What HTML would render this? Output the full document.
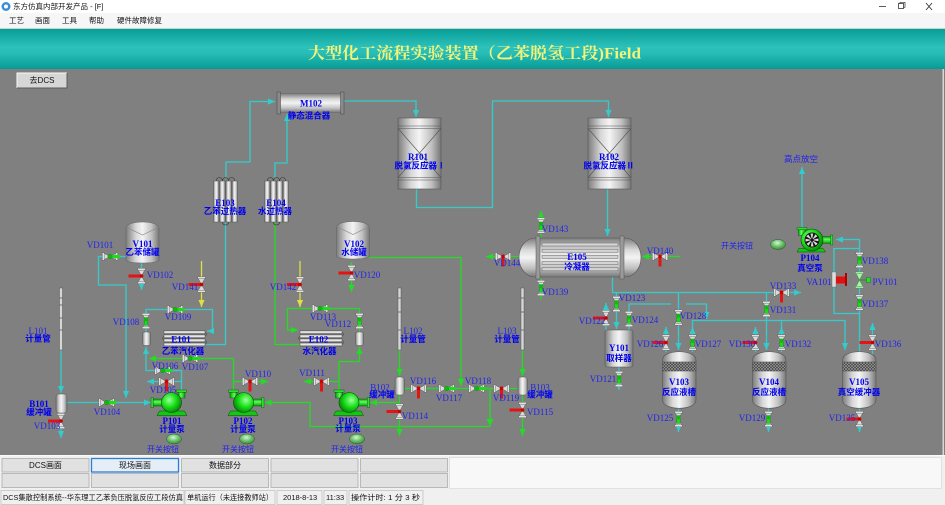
<!DOCTYPE html>
<html><head><meta charset="utf-8"><title>Field</title>
<style>
html,body{margin:0;padding:0;background:#808080;width:945px;height:505px;overflow:hidden}
svg{display:block}
text{dominant-baseline:central}
.vl{font-family:"Liberation Serif","Noto Serif CJK SC",serif;font-size:9px;fill:#2222ee;text-anchor:middle}
.eq{font-family:"Liberation Serif","Noto Serif CJK SC",serif;font-size:9px;font-weight:bold;fill:#0000f0;text-anchor:middle}
.cn{font-family:"Liberation Sans","Noto Sans CJK SC",sans-serif;font-size:8.5px;font-weight:bold;fill:#0000f0;text-anchor:middle}
.cr{font-family:"Liberation Sans","Noto Sans CJK SC",sans-serif;font-size:8px;fill:#2222ee;text-anchor:middle}
.ui{font-family:"Liberation Sans","Noto Sans CJK SC",sans-serif;font-size:7.5px;fill:#111}
.uic{font-family:"Liberation Sans","Noto Sans CJK SC",sans-serif;font-size:8px;fill:#111;text-anchor:middle}
</style></head><body>
<svg width="945" height="505" viewBox="0 0 945 505" xmlns="http://www.w3.org/2000/svg">
<defs>
<linearGradient id="hdr" x1="0" y1="0" x2="0" y2="1"><stop offset="0" stop-color="#089e98"/><stop offset="0.45" stop-color="#2cc2bb"/><stop offset="0.6" stop-color="#28beb7"/><stop offset="1" stop-color="#069b96"/></linearGradient>
<linearGradient id="mH" x1="0" y1="0" x2="1" y2="0"><stop offset="0" stop-color="#7c7c7c"/><stop offset="0.3" stop-color="#d8d8d8"/><stop offset="0.5" stop-color="#f4f4f4"/><stop offset="0.78" stop-color="#c0c0c0"/><stop offset="1" stop-color="#777"/></linearGradient>
<linearGradient id="mV" x1="0" y1="0" x2="0" y2="1"><stop offset="0" stop-color="#7c7c7c"/><stop offset="0.3" stop-color="#d8d8d8"/><stop offset="0.5" stop-color="#f4f4f4"/><stop offset="0.78" stop-color="#c0c0c0"/><stop offset="1" stop-color="#777"/></linearGradient>
<linearGradient id="gV" x1="0" y1="0" x2="0" y2="1"><stop offset="0" stop-color="#0a9a0a"/><stop offset="0.4" stop-color="#5cff5c"/><stop offset="1" stop-color="#0a9a0a"/></linearGradient>
<linearGradient id="gH" x1="0" y1="0" x2="1" y2="0"><stop offset="0" stop-color="#0a9a0a"/><stop offset="0.4" stop-color="#5cff5c"/><stop offset="1" stop-color="#0a9a0a"/></linearGradient>
<radialGradient id="gP" cx="0.38" cy="0.38" r="0.7"><stop offset="0" stop-color="#9aff9a"/><stop offset="0.5" stop-color="#19e019"/><stop offset="1" stop-color="#057a05"/></radialGradient>
<radialGradient id="btn" cx="0.45" cy="0.35" r="0.75"><stop offset="0" stop-color="#d6f5d6"/><stop offset="0.45" stop-color="#6fc46f"/><stop offset="1" stop-color="#2b7a2b"/></radialGradient>
<pattern id="mesh" width="3" height="3" patternUnits="userSpaceOnUse"><rect width="3" height="3" fill="#444"/><path d="M0,0L3,3M3,0L0,3" stroke="#a0a0a0" stroke-width="0.6"/></pattern>
<marker id="aC" viewBox="0 0 8 8" refX="8" refY="4" markerWidth="7" markerHeight="7" markerUnits="userSpaceOnUse" orient="auto"><path d="M0,0.5L8,4L0,7.5Z" fill="#33cccc"/></marker>
<marker id="aG" viewBox="0 0 8 8" refX="8" refY="4" markerWidth="7" markerHeight="7" markerUnits="userSpaceOnUse" orient="auto"><path d="M0,0.5L8,4L0,7.5Z" fill="#22dd22"/></marker>
<marker id="aY" viewBox="0 0 8 8" refX="8" refY="4" markerWidth="7" markerHeight="7" markerUnits="userSpaceOnUse" orient="auto"><path d="M0,0.5L8,4L0,7.5Z" fill="#e0e040"/></marker>
<g id="vv">
 <path d="M-3.2,-6 L3.2,-6 L0,0 Z M-3.2,6 L3.2,6 L0,0 Z" fill="#dadada" stroke="#5a5a5a" stroke-width="0.45"/>
 <rect x="-3.8" y="-7.6" width="7.6" height="1.7" fill="#efefef" stroke="#5a5a5a" stroke-width="0.4"/>
 <rect x="-3.8" y="5.9" width="7.6" height="1.7" fill="#efefef" stroke="#5a5a5a" stroke-width="0.4"/>
</g>
<g id="vh"><use href="#vv" transform="rotate(90)"/></g>
<g id="vvg"><use href="#vv"/><rect x="-1.6" y="-3.5" width="3.2" height="8" fill="#18e018" stroke="#0a700a" stroke-width="0.3"/><circle cy="-1.5" r="1.9" fill="#0cbc0c"/></g>
<g id="vvr"><use href="#vv"/><rect x="-13" y="-1.5" width="13" height="3" fill="#e41414"/><circle r="1.8" fill="#c00"/></g>
<g id="vhg"><use href="#vh"/><rect x="0" y="-1.5" width="10" height="3" fill="#18e018"/><circle r="2.2" fill="#0cbc0c" stroke="#0a700a" stroke-width="0.3"/></g>
<g id="vhr"><use href="#vh"/><rect x="-1.5" y="-2" width="3" height="12" fill="#e41414"/><circle r="1.8" fill="#c00"/></g>
<g id="pmp">
 <path d="M-12,8.5 L13,8.5 L15.5,13 L-14.5,13 Z" fill="#12c812" stroke="#064a06" stroke-width="0.5"/>
 <rect x="-19" y="-3.5" width="10" height="7" fill="url(#gV)" stroke="#064a06" stroke-width="0.4"/>
 <rect x="-20.5" y="-5" width="2.2" height="10" fill="#2ee02e" stroke="#064a06" stroke-width="0.4"/>
 <rect x="6.5" y="-10.5" width="7" height="6" fill="url(#gH)" stroke="#064a06" stroke-width="0.4"/>
 <rect x="5" y="-12.5" width="10" height="2.2" fill="#2ee02e" stroke="#064a06" stroke-width="0.4"/>
 <circle r="10" fill="url(#gP)" stroke="#064a06" stroke-width="0.6"/>
</g>
</defs>

<!-- window chrome -->
<rect x="0" y="0" width="945" height="13" fill="#ffffff"/>
<circle cx="6" cy="6.5" r="4.5" fill="#3a8fd8"/><circle cx="6" cy="6.5" r="2" fill="#ffffff"/>
<text class="ui" x="13" y="6.5">东方仿真内部开发产品 - [F]</text>
<line x1="879" y1="6.5" x2="886" y2="6.5" stroke="#333" stroke-width="0.8"/>
<rect x="898.5" y="3.5" width="5" height="5" fill="none" stroke="#333" stroke-width="0.8"/>
<path d="M900,3.5V2.3H905V7.3H903.5" fill="none" stroke="#333" stroke-width="0.7"/>
<path d="M926,3L932,10M932,3L926,10" stroke="#333" stroke-width="0.9"/>
<rect x="0" y="13" width="945" height="15" fill="#f6f6f6"/>
<text class="ui" x="9" y="20.5">工艺</text>
<text class="ui" x="35" y="20.5">画面</text>
<text class="ui" x="62" y="20.5">工具</text>
<text class="ui" x="89" y="20.5">帮助</text>
<text class="ui" x="117" y="20.5">硬件故障修复</text>
<line x1="0" y1="28.5" x2="945" y2="28.5" stroke="#cfcfcf" stroke-width="1"/>

<!-- header -->
<rect x="0" y="29" width="945" height="40" fill="url(#hdr)"/>
<text x="474.5" y="54" text-anchor="middle" textLength="333" lengthAdjust="spacingAndGlyphs" font-family="'Liberation Serif','Noto Serif CJK SC',serif" font-size="16" font-weight="bold" fill="#f3f37a">大型化工流程实验装置（乙苯脱氢工段)Field</text>

<!-- body -->
<rect x="0" y="69" width="945" height="386" fill="#808080"/>
<rect x="942.5" y="69" width="1.5" height="386" fill="#d8d8d8"/>
<rect x="17" y="73" width="50" height="15" fill="#d6d6d6"/>
<path d="M17,88V73H67" fill="none" stroke="#fafafa" stroke-width="1"/>
<path d="M17,88H67V73" fill="none" stroke="#5a5a5a" stroke-width="1"/>
<text class="uic" x="42" y="80.5">去DCS</text>

<!-- pipelines cyan -->
<g fill="none" stroke="#33cccc" stroke-width="1.3">
<polyline points="226,178 226,162 250,162 250,101.5 275,101.5" marker-end="url(#aC)"/>
<polyline points="275,178 275,163 287,163 287,114" marker-end="url(#aC)"/>
<polyline points="344,101 416,101 416,117" marker-end="url(#aC)"/>
<polyline points="416.5,189 416.5,207.5 492.5,207.5 492.5,101 608.5,101 608.5,117" marker-end="url(#aC)"/>
<polyline points="607.5,189 607.5,236" marker-end="url(#aC)"/>
<polyline points="612.5,276 612.5,292.5 801,292.5" marker-end="url(#aC)"/>
<polyline points="678.5,292.5 678.5,350" marker-end="url(#aC)"/>
<polyline points="766.5,292.5 766.5,350" marker-end="url(#aC)"/>
<polyline points="616.5,292.5 616.5,329" marker-end="url(#aC)"/>
<polyline points="606,330 606,303" marker-end="url(#aC)"/>
<polyline points="629,330 629,304 671,304"/>
<polyline points="686,304 706.5,304 706.5,319" marker-end="url(#aC)"/>
<polyline points="692.5,327 692.5,320.5 845,320.5 845,350" marker-end="url(#aC)"/>
<polyline points="692.5,352 692.5,327" marker-end="url(#aC)"/>
<polyline points="781.5,352 781.5,327" marker-end="url(#aC)"/>
<line x1="781.5" y1="327" x2="781.5" y2="320.5"/>
<polyline points="666,352 666,327" marker-end="url(#aC)"/>
<polyline points="755.5,352 755.5,327" marker-end="url(#aC)"/>
<polyline points="872.5,354 872.5,323" marker-end="url(#aC)"/>
<polyline points="859.5,352 859.5,239.5 836,239.5" marker-end="url(#aC)"/>
<polyline points="859.5,313.5 834,313.5 834,248.5 859.5,248.5"/>
<polyline points="802,228 802,167" marker-end="url(#aC)"/>
<polyline points="619,367 619,390" marker-end="url(#aC)"/>
<polyline points="678.5,408 678.5,432" marker-end="url(#aC)"/>
<polyline points="768.5,408 768.5,432" marker-end="url(#aC)"/>
<polyline points="859.5,408 859.5,432" marker-end="url(#aC)"/>
<polyline points="126,256.5 98.5,256.5 98.5,285 126,285 126,398" marker-end="url(#aC)"/>
<polyline points="141.5,263 141.5,290" marker-end="url(#aC)"/>
<polyline points="61,350 61,393" marker-end="url(#aC)"/>
<polyline points="61,413 61,438" marker-end="url(#aC)"/>
<polyline points="67,402.5 151,402.5" marker-end="url(#aC)"/>
<polyline points="181.5,390 181.5,370.5 146,370.5 146,347" marker-end="url(#aC)"/>
<polyline points="181.5,381.5 147,381.5" marker-end="url(#aC)"/>
<polyline points="146,332 146,309.5 212.5,309.5 212.5,331 207,331" marker-end="url(#aC)"/>
<polyline points="205,344.5 225.5,344.5 225.5,222"/>
</g>
<!-- pipelines green -->
<g fill="none" stroke="#22dd22" stroke-width="1.3">
<polyline points="369,257.5 461,257.5 461,386" marker-end="url(#aG)"/>
<polyline points="351.5,262 351.5,292" marker-end="url(#aG)"/>
<polyline points="275,222 275,344.5 300,344.5"/>
<polyline points="359.5,332 359.5,308.5 287.5,308.5 287.5,330 298,330" marker-end="url(#aG)"/>
<polyline points="339,391 339,361.5 359.5,361.5 359.5,347" marker-end="url(#aG)"/>
<polyline points="339,381.5 304,381.5" marker-end="url(#aG)"/>
<polyline points="399.5,402.5 370,402.5" marker-end="url(#aG)"/>
<polyline points="399.5,395 399.5,436" marker-end="url(#aG)"/>
<polyline points="399.5,350 399.5,376" marker-end="url(#aG)"/>
<polyline points="522.5,350 522.5,376" marker-end="url(#aG)"/>
<polyline points="522.5,395 522.5,436" marker-end="url(#aG)"/>
<polyline points="404,388.5 518,388.5"/>
<polyline points="490,388.5 490,426.5 310,426.5 310,402.5 264.5,402.5" marker-end="url(#aG)"/>
<polyline points="233.5,391 233.5,358.5 149,358.5" marker-end="url(#aG)"/>
<polyline points="233.5,381.5 268,381.5" marker-end="url(#aG)"/>
<polyline points="680,256.5 642,256.5" marker-end="url(#aG)"/>
<polyline points="541,238 541,211" marker-end="url(#aG)"/>
<polyline points="541,300 541,278" marker-end="url(#aG)"/>
<polyline points="519,256.5 486,256.5" marker-end="url(#aG)"/>
</g>
<path d="M486.5,419 L493.5,419 L490,426 Z" fill="#22dd22"/>
<!-- pipelines yellow -->
<g fill="none" stroke="#e0e040" stroke-width="1.3">
<polyline points="201.5,261 201.5,307" marker-end="url(#aY)"/>
<polyline points="300,261 300,307" marker-end="url(#aY)"/>
</g>

<!-- M102 -->
<rect x="280" y="93.5" width="61" height="19" fill="url(#mV)" stroke="#666" stroke-width="0.5"/>
<rect x="277" y="92" width="3.5" height="22" fill="#8a8a8a" stroke="#444" stroke-width="0.5"/>
<rect x="340.5" y="92" width="3.5" height="22" fill="#8a8a8a" stroke="#444" stroke-width="0.5"/>

<!-- reactors -->
<g stroke="#555" stroke-width="0.6">
<rect x="398" y="118" width="43" height="71" fill="url(#mH)"/>
<path d="M398,126H441M398,128.5H441M398,177.5H441M398,180H441M398,128.5L441,177.5M441,128.5L398,177.5" fill="none"/>
<rect x="588" y="118" width="43" height="71" fill="url(#mH)"/>
<path d="M588,126H631M588,128.5H631M588,177.5H631M588,180H631M588,128.5L631,177.5M631,128.5L588,177.5" fill="none"/>
</g>

<!-- E103 / E104 -->
<g stroke="#555" stroke-width="0.5">
<rect x="213.5" y="181" width="5.4" height="41" fill="url(#mH)"/>
<rect x="219.7" y="181" width="5.4" height="41" fill="url(#mH)"/>
<rect x="225.9" y="181" width="5.4" height="41" fill="url(#mH)"/>
<rect x="232.1" y="181" width="5.4" height="41" fill="url(#mH)"/>
<rect x="264.5" y="181" width="5.4" height="41" fill="url(#mH)"/>
<rect x="270.7" y="181" width="5.4" height="41" fill="url(#mH)"/>
<rect x="276.9" y="181" width="5.4" height="41" fill="url(#mH)"/>
<rect x="283.1" y="181" width="5.4" height="41" fill="url(#mH)"/>
</g>
<g fill="none" stroke="#333" stroke-width="0.6">
<path d="M216.2,181A3.1,3.5 0 0 1 222.4,181M222.4,181A3.1,3.5 0 0 1 228.6,181M228.6,181A3.1,3.5 0 0 1 234.8,181M222.4,222A3.1,3 0 0 0 228.6,222"/>
<path d="M267.2,181A3.1,3.5 0 0 1 273.4,181M273.4,181A3.1,3.5 0 0 1 279.6,181M279.6,181A3.1,3.5 0 0 1 285.8,181M273.4,222A3.1,3 0 0 0 279.6,222"/>
</g>

<!-- tanks V101 V102 -->
<g stroke="#666" stroke-width="0.6">
<path d="M126,228 C126,220 159,220 159,228 L159,260 C159,264 126,264 126,260 Z" fill="url(#mH)"/>
<path d="M126,227 L142.5,235 L159,227" fill="none" stroke="#888"/>
<path d="M336.5,227.5 C336.5,219.5 369.5,219.5 369.5,227.5 L369.5,256 C369.5,260 336.5,260 336.5,256 Z" fill="url(#mH)"/>
<path d="M336.5,226.5 L353,234.5 L369.5,226.5" fill="none" stroke="#888"/>
</g>

<!-- E101 / E102 -->
<g stroke="#555" stroke-width="0.5">
<rect x="164" y="330.5" width="41" height="3.3" fill="url(#mV)"/>
<rect x="164" y="334.6" width="41" height="3.3" fill="url(#mV)"/>
<rect x="164" y="338.7" width="41" height="3.3" fill="url(#mV)"/>
<rect x="164" y="342.8" width="41" height="3.3" fill="url(#mV)"/>
<rect x="300" y="330.5" width="42" height="3.3" fill="url(#mV)"/>
<rect x="300" y="334.6" width="42" height="3.3" fill="url(#mV)"/>
<rect x="300" y="338.7" width="42" height="3.3" fill="url(#mV)"/>
<rect x="300" y="342.8" width="42" height="3.3" fill="url(#mV)"/>
</g>
<g fill="none" stroke="#333" stroke-width="0.5">
<path d="M205,332.2q3,2 0,4.1M205,340.4q3,2 0,4.1M164,336.3q-3,2 0,4.1"/>
<path d="M342,332.2q3,2 0,4.1M342,340.4q3,2 0,4.1M300,336.3q-3,2 0,4.1"/>
</g>

<!-- E105 -->
<path d="M535,238 H625 A16,19.5 0 0 1 625,277 H535 A16,19.5 0 0 1 535,238 Z" fill="url(#mV)" stroke="#555" stroke-width="0.6"/>
<rect x="536" y="236" width="4" height="43" fill="#9a9a9a" stroke="#555" stroke-width="0.5"/>
<rect x="620" y="236" width="4" height="43" fill="#9a9a9a" stroke="#555" stroke-width="0.5"/>
<g fill="#d4d4d4" stroke="#666" stroke-width="0.5">
<rect x="542" y="243" width="76" height="3"/>
<rect x="542" y="249.2" width="76" height="3"/>
<rect x="542" y="255.4" width="76" height="3"/>
<rect x="542" y="261.6" width="76" height="3"/>
<rect x="542" y="267.8" width="76" height="3"/>
</g>

<!-- Y101 -->
<rect x="605" y="330" width="28" height="37" rx="2" fill="url(#mH)" stroke="#555" stroke-width="0.6"/>

<!-- V103 V104 V105 -->
<g stroke="#555" stroke-width="0.6">
<path d="M662.5,360 C662.5,349 696,349 696,360 L696,400 C696,411 662.5,411 662.5,400 Z" fill="url(#mH)"/>
<rect x="662.5" y="362" width="33.5" height="9" fill="url(#mesh)"/>
<path d="M752.5,360 C752.5,349 786,349 786,360 L786,400 C786,411 752.5,411 752.5,400 Z" fill="url(#mH)"/>
<rect x="752.5" y="362" width="33.5" height="9" fill="url(#mesh)"/>
<path d="M842.5,360 C842.5,349 876,349 876,360 L876,400 C876,411 842.5,411 842.5,400 Z" fill="url(#mH)"/>
<rect x="842.5" y="362" width="33.5" height="9" fill="url(#mesh)"/>
</g>

<!-- small vessels and gauges -->
<g stroke="#555" stroke-width="0.5">
<rect x="56" y="394" width="11" height="19" rx="3" fill="url(#mH)"/>
<rect x="395" y="377" width="9.5" height="18" rx="3" fill="url(#mH)"/>
<rect x="518" y="377" width="9.5" height="18" rx="3" fill="url(#mH)"/>
<rect x="142.5" y="332" width="8" height="13.5" rx="2" fill="url(#mH)"/>
<rect x="355.5" y="332" width="8" height="13.5" rx="2" fill="url(#mH)"/>
<rect x="59.5" y="288" width="3" height="62" fill="#d6d6d6"/>
<rect x="398" y="288" width="3" height="62" fill="#d6d6d6"/>
<rect x="521" y="288" width="3" height="62" fill="#d6d6d6"/>
</g>
<g stroke="#555" stroke-width="0.8">
<path d="M59.5,298h3M59.5,305h3M59.5,318h3M59.5,330h3M398,298h3M398,312h3M398,330h3M521,298h3M521,312h3M521,330h3"/>
</g>

<!-- pumps -->
<use href="#pmp" x="171.5" y="402.5"/>
<use href="#pmp" transform="translate(243.5,402.5) scale(-1,1)"/>
<use href="#pmp" transform="translate(349,402.5) scale(-1,1)"/>
<g transform="translate(812,240)">
 <path d="M-13,8.5 L11,8.5 L13.5,12 L-15,12 Z" fill="#12c812" stroke="#064a06" stroke-width="0.5"/>
 <rect x="9" y="-3.5" width="10" height="7" fill="url(#gV)" stroke="#064a06" stroke-width="0.4"/>
 <rect x="18.5" y="-5" width="2.2" height="10" fill="#2ee02e" stroke="#064a06" stroke-width="0.4"/>
 <rect x="-13.5" y="-10.5" width="7" height="6" fill="url(#gH)" stroke="#064a06" stroke-width="0.4"/>
 <rect x="-15" y="-12.5" width="10" height="2.2" fill="#2ee02e" stroke="#064a06" stroke-width="0.4"/>
 <circle r="11" fill="url(#gP)" stroke="#064a06" stroke-width="0.6"/>
 <circle r="7.5" fill="#111"/>
 <g fill="#d8d8d8">
  <path d="M0,0L6.5,-1.6L6.5,1.2Z"/><path d="M0,0L6.5,-1.6L6.5,1.2Z" transform="rotate(45)"/>
  <path d="M0,0L6.5,-1.6L6.5,1.2Z" transform="rotate(90)"/><path d="M0,0L6.5,-1.6L6.5,1.2Z" transform="rotate(135)"/>
  <path d="M0,0L6.5,-1.6L6.5,1.2Z" transform="rotate(180)"/><path d="M0,0L6.5,-1.6L6.5,1.2Z" transform="rotate(225)"/>
  <path d="M0,0L6.5,-1.6L6.5,1.2Z" transform="rotate(270)"/><path d="M0,0L6.5,-1.6L6.5,1.2Z" transform="rotate(315)"/>
 </g>
 <circle r="1.5" fill="#111"/>
</g>

<!-- buttons -->
<g stroke="#2a5a2a" stroke-width="0.5" fill="url(#btn)">
<ellipse cx="174" cy="439" rx="7.5" ry="5"/>
<ellipse cx="247" cy="439" rx="7.5" ry="5"/>
<ellipse cx="357" cy="439" rx="7.5" ry="5"/>
<ellipse cx="778" cy="244.5" rx="7.5" ry="5"/>
</g>

<!-- valves -->
<use href="#vhg" x="110" y="256.5"/>
<use href="#vvr" x="141.5" y="276"/>
<use href="#vvr" x="61" y="421"/>
<use href="#vhg" x="106.5" y="402.5"/>
<use href="#vhr" x="166.5" y="381.5"/>
<use href="#vhg" x="162.5" y="370.5"/>
<use href="#vhg" x="190" y="358.5"/>
<use href="#vvg" x="146" y="321"/>
<use href="#vhg" x="175" y="309.5"/>
<use href="#vhr" x="250" y="381.5"/>
<use href="#vhr" x="321.5" y="381.5"/>
<use href="#vvg" x="359.5" y="321"/>
<use href="#vhg" x="320" y="308.5"/>
<use href="#vvr" x="399.5" y="411.5"/>
<use href="#vvr" x="522.5" y="410"/>
<use href="#vhr" x="418.5" y="388.5"/>
<use href="#vhg" x="446.5" y="388.5"/>
<use href="#vhg" x="476.5" y="388.5"/>
<use href="#vhr" x="501.5" y="388.5"/>
<use href="#vvr" x="351.5" y="273"/>
<use href="#vvg" x="619" y="379"/>
<use href="#vvr" x="606" y="318"/>
<use href="#vvg" x="616.5" y="304"/>
<use href="#vvg" x="629" y="319"/>
<use href="#vvg" x="678.5" y="419"/>
<use href="#vvr" x="666" y="342.5"/>
<use href="#vvg" x="692.5" y="342.5"/>
<use href="#vvg" x="678.5" y="317.5"/>
<use href="#vvg" x="768.5" y="419"/>
<use href="#vvr" x="755.5" y="342.5"/>
<use href="#vvg" x="766.5" y="309"/>
<use href="#vvg" x="781.5" y="342.5"/>
<use href="#vhr" x="781.5" y="292.5"/>
<use href="#vvr" x="859.5" y="419"/>
<use href="#vvr" x="872.5" y="342.5"/>
<use href="#vvg" x="859.5" y="302.5"/>
<use href="#vvg" x="859.5" y="260"/>
<use href="#vvg" x="541" y="288"/>
<use href="#vhr" x="660" y="256.5"/>
<use href="#vvr" x="201.5" y="284.5"/>
<use href="#vvr" x="300" y="284.5"/>
<use href="#vvg" x="541" y="225.5"/>
<use href="#vhr" x="503" y="256.5"/>
<!-- PV101 control valve -->
<g transform="translate(859.5,280)">
 <path d="M-3.5,-6.5 L3.5,-6.5 L0,0 Z M-3.5,6.5 L3.5,6.5 L0,0 Z" fill="#a8f0a8" stroke="#3a8a3a" stroke-width="0.5"/>
 <rect x="-4" y="-8" width="8" height="1.6" fill="#c8f8c8" stroke="#3a8a3a" stroke-width="0.4"/>
 <rect x="-4" y="6.4" width="8" height="1.6" fill="#c8f8c8" stroke="#3a8a3a" stroke-width="0.4"/>
 <line x1="0" y1="0" x2="7" y2="0" stroke="#1a9a1a" stroke-width="1"/>
 <rect x="7" y="-2.5" width="4" height="5" fill="#20e020" stroke="#0a700a" stroke-width="0.4"/>
</g>
<!-- VA101 -->
<rect x="832" y="272" width="4" height="15" fill="#dddddd" stroke="#666" stroke-width="0.4"/>
<rect x="836" y="276.5" width="9" height="7" fill="#e01010"/>
<rect x="845" y="273" width="2" height="13" fill="#b00000"/>

<!-- equipment labels -->
<text class="eq" x="311" y="103.5">M102</text><text class="cn" x="309" y="115.5">静态混合器</text>
<text class="eq" x="418" y="157">R101</text><text class="cn" x="420" y="165.5">脱氢反应器Ⅰ</text>
<text class="eq" x="609" y="157">R102</text><text class="cn" x="609" y="165.5">脱氢反应器Ⅱ</text>
<text class="eq" x="225" y="203">E103</text><text class="cn" x="225" y="211">乙苯过热器</text>
<text class="eq" x="276" y="203">E104</text><text class="cn" x="275" y="211">水过热器</text>
<text class="eq" x="142.5" y="244">V101</text><text class="cn" x="142.5" y="252">乙苯储罐</text>
<text class="eq" x="354" y="244">V102</text><text class="cn" x="354" y="252">水储罐</text>
<text class="eq" x="577" y="257">E105</text><text class="cn" x="577" y="266.5">冷凝器</text>
<text class="eq" x="810" y="258">P104</text><text class="cn" x="810" y="268">真空泵</text>
<text class="eq" x="181" y="339.5">E101</text><text class="cn" x="183" y="351">乙苯汽化器</text>
<text class="eq" x="318.5" y="339.5">E102</text><text class="cn" x="319.5" y="351">水汽化器</text>
<text class="vl" x="38" y="331">L101</text><text class="cn" x="38" y="338.5">计量管</text>
<text class="vl" x="413" y="331">L102</text><text class="cn" x="413" y="339">计量管</text>
<text class="vl" x="507" y="331">L103</text><text class="cn" x="507" y="339">计量管</text>
<text class="eq" x="39" y="404">B101</text><text class="cn" x="39" y="412">缓冲罐</text>
<text class="vl" x="380" y="387.5">B102</text><text class="cn" x="382" y="394.5">缓冲罐</text>
<text class="vl" x="540" y="387.5">B103</text><text class="cn" x="540" y="394.5">缓冲罐</text>
<text class="eq" x="172" y="421">P101</text><text class="cn" x="172" y="429">计量泵</text>
<text class="eq" x="243" y="421">P102</text><text class="cn" x="243" y="429">计量泵</text>
<text class="eq" x="348" y="421">P103</text><text class="cn" x="348" y="428.5">计量泵</text>
<text class="eq" x="619" y="348">Y101</text><text class="cn" x="619" y="358">取样器</text>
<text class="eq" x="679" y="382">V103</text><text class="cn" x="679" y="392">反应液槽</text>
<text class="eq" x="769" y="382">V104</text><text class="cn" x="769" y="392">反应液槽</text>
<text class="eq" x="859" y="382">V105</text><text class="cn" x="859" y="392">真空缓冲器</text>
<text class="cr" x="801" y="159" style="font-size:8.5px">高点放空</text>
<text class="cr" x="737" y="246">开关按钮</text>
<text class="cr" x="163" y="449.5">开关按钮</text>
<text class="cr" x="238" y="449.5">开关按钮</text>
<text class="cr" x="347" y="449.5">开关按钮</text>

<!-- valve labels -->
<text class="vl" x="100" y="245">VD101</text>
<text class="vl" x="160" y="275">VD102</text>
<text class="vl" x="47" y="426">VD103</text>
<text class="vl" x="107" y="412">VD104</text>
<text class="vl" x="163" y="390">VD105</text>
<text class="vl" x="165" y="366">VD106</text>
<text class="vl" x="195" y="367">VD107</text>
<text class="vl" x="126" y="322">VD108</text>
<text class="vl" x="178" y="317">VD109</text>
<text class="vl" x="258" y="374">VD110</text>
<text class="vl" x="312" y="373">VD111</text>
<text class="vl" x="338" y="324">VD112</text>
<text class="vl" x="323" y="317">VD113</text>
<text class="vl" x="415" y="416">VD114</text>
<text class="vl" x="540" y="412">VD115</text>
<text class="vl" x="423" y="381">VD116</text>
<text class="vl" x="449" y="398">VD117</text>
<text class="vl" x="478" y="381">VD118</text>
<text class="vl" x="506" y="398">VD119</text>
<text class="vl" x="367" y="275">VD120</text>
<text class="vl" x="603" y="379">VD121</text>
<text class="vl" x="592" y="321">VD122</text>
<text class="vl" x="632" y="298">VD123</text>
<text class="vl" x="645" y="320">VD124</text>
<text class="vl" x="660" y="418">VD125</text>
<text class="vl" x="650" y="344">VD126</text>
<text class="vl" x="708" y="344">VD127</text>
<text class="vl" x="693" y="316">VD128</text>
<text class="vl" x="752" y="418">VD129</text>
<text class="vl" x="742" y="344">VD130</text>
<text class="vl" x="783" y="310">VD131</text>
<text class="vl" x="798" y="344">VD132</text>
<text class="vl" x="783" y="286">VD133</text>
<text class="vl" x="842" y="418">VD135</text>
<text class="vl" x="888" y="344">VD136</text>
<text class="vl" x="875" y="304">VD137</text>
<text class="vl" x="875" y="261">VD138</text>
<text class="vl" x="885" y="282">PV101</text>
<text class="vl" x="819" y="282">VA101</text>
<text class="vl" x="555" y="292">VD139</text>
<text class="vl" x="660" y="251">VD140</text>
<text class="vl" x="185" y="287">VD141</text>
<text class="vl" x="283" y="287">VD142</text>
<text class="vl" x="555" y="229">VD143</text>
<text class="vl" x="507" y="263">VD144</text>

<!-- bottom panel -->
<rect x="0" y="455" width="945" height="50" fill="#f0f0f0"/>
<line x1="0" y1="455.5" x2="945" y2="455.5" stroke="#fafafa" stroke-width="1"/>
<rect x="449.5" y="457.5" width="492" height="31" fill="#f8f8f8" stroke="#dcdcdc" stroke-width="0.8"/>
<g fill="#e1e1e1" stroke="#adadad" stroke-width="0.8">
<rect x="2" y="458.5" width="87" height="13.5"/>
<rect x="181.5" y="458.5" width="87" height="13.5"/>
<rect x="271" y="458.5" width="87" height="13.5"/>
<rect x="360.5" y="458.5" width="87" height="13.5"/>
<rect x="2" y="473.5" width="87" height="14"/>
<rect x="91.5" y="473.5" width="87" height="14"/>
<rect x="181.5" y="473.5" width="87" height="14"/>
<rect x="271" y="473.5" width="87" height="14"/>
<rect x="360.5" y="473.5" width="87" height="14"/>
</g>
<rect x="91.5" y="458.5" width="87" height="13.5" fill="#e5eef7" stroke="#2a7fd4" stroke-width="1.3"/>
<text class="uic" x="45.5" y="465.5">DCS画面</text>
<text class="uic" x="135" y="465.5">现场画面</text>
<text class="uic" x="225" y="465.5">数据部分</text>
<!-- status bar -->
<g fill="none" stroke="#c4c4c4" stroke-width="0.8">
<rect x="1" y="490.5" width="183" height="14"/>
<rect x="185" y="490.5" width="90" height="14"/>
<rect x="277" y="490.5" width="45" height="14"/>
<rect x="324" y="490.5" width="23" height="14"/>
<rect x="349" y="490.5" width="74" height="14"/>
</g>
<text class="ui" x="3" y="497.5" textLength="180" lengthAdjust="spacingAndGlyphs">DCS集散控制系统--华东理工乙苯负压脱氢反应工段仿真</text>
<text class="ui" x="187" y="497.5" textLength="86" lengthAdjust="spacingAndGlyphs">单机运行（未连接教师站）</text>
<text class="ui" x="283" y="497.5">2018-8-13</text>
<text class="ui" x="326" y="497.5">11:33</text>
<text class="ui" x="351" y="497.5" textLength="69" lengthAdjust="spacingAndGlyphs">操作计时: 1 分 3 秒</text>
</svg>
</body></html>
